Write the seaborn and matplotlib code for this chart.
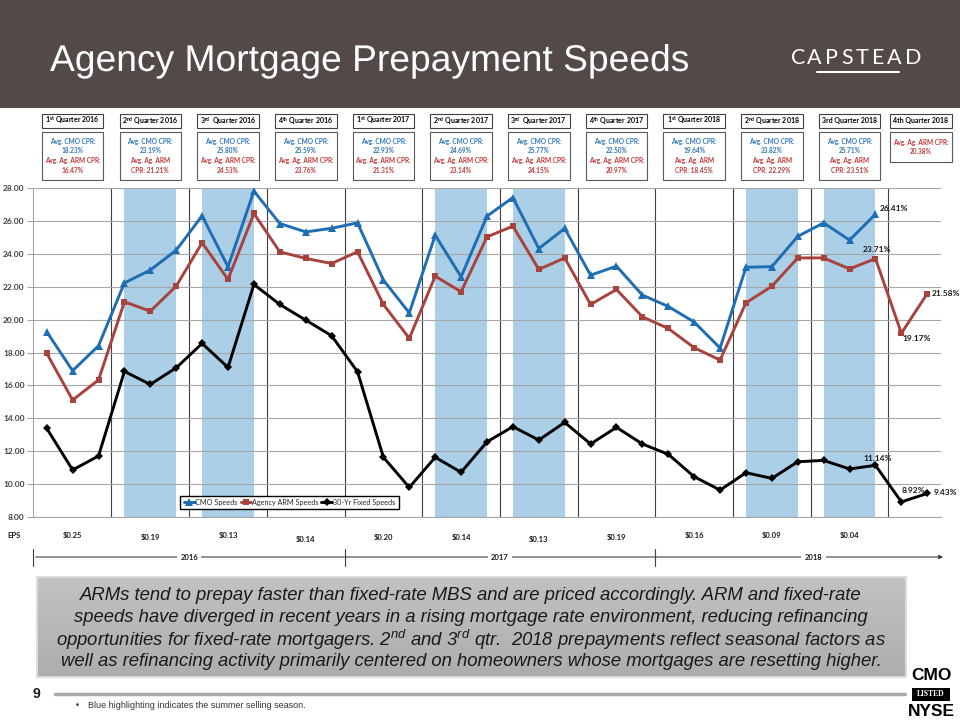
import numpy as np
import pandas as pd
import matplotlib
matplotlib.use("Agg")
import matplotlib.pyplot as plt
import seaborn as sns
from matplotlib import font_manager
from matplotlib.patches import Rectangle
from matplotlib.lines import Line2D
from matplotlib.transforms import blended_transform_factory
import matplotlib.patheffects as pe
from matplotlib.ticker import FormatStrFormatter, MultipleLocator

# ---------------- data ----------------
months = ["Jan", "Feb", "Mar", "Apr", "May", "Jun", "Jul", "Aug", "Sep", "Oct", "Nov", "Dec"]
periods = [f"{m}-{y}" for y in (2016, 2017, 2018) for m in months][:35]

cmo_speeds = [19.26, 16.89, 18.41, 22.23, 23.01, 24.22, 26.31, 23.21, 27.81, 25.84, 25.33, 25.55,
              25.88, 22.40, 20.41, 25.13, 22.60, 26.29, 27.42, 24.32, 25.54, 22.70, 23.25, 21.49,
              20.80, 19.85, 18.27, 23.18, 23.22, 25.06, 25.88, 24.83, 26.41]
arm_speeds = [17.95, 15.11, 16.33, 21.08, 20.51, 22.04, 24.67, 22.44, 26.45, 24.12, 23.72, 23.41,
              24.12, 20.92, 18.86, 22.64, 21.69, 25.03, 25.68, 23.05, 23.75, 20.92, 21.83, 20.17,
              19.46, 18.29, 17.54, 21.02, 22.03, 23.75, 23.75, 23.08, 23.71, 19.17, 21.58]
fixed_speeds = [13.39, 10.86, 11.71, 16.85, 16.06, 17.07, 18.55, 17.09, 22.14, 20.92, 19.97, 19.02,
                16.83, 11.63, 9.80, 11.63, 10.72, 12.57, 13.49, 12.68, 13.75, 12.44, 13.45, 12.44,
                11.81, 10.45, 9.64, 10.69, 10.35, 11.36, 11.44, 10.92, 11.14, 8.92, 9.43]

quarter_titles = ["1$^{\\mathbf{st}}$ Quarter 2016", "2$^{\\mathbf{nd}}$ Quarter 2016",
                  "3$^{\\mathbf{rd}}$  Quarter 2016", "4$^{\\mathbf{th}}$ Quarter 2016",
                  "1$^{\\mathbf{st}}$ Quarter 2017", "2$^{\\mathbf{nd}}$ Quarter 2017",
                  "3$^{\\mathbf{rd}}$  Quarter 2017", "4$^{\\mathbf{th}}$ Quarter 2017",
                  "1$^{\\mathbf{st}}$ Quarter 2018", "2$^{\\mathbf{nd}}$ Quarter 2018",
                  "3rd Quarter 2018", "4th Quarter 2018"]
cmo_avg = [18.23, 23.19, 25.80, 25.59, 22.93, 24.69, 25.77, 22.50, 19.64, 23.82, 25.71, None]
arm_avg = [16.47, 21.21, 24.53, 23.76, 21.31, 23.14, 24.15, 20.97, 18.45, 22.29, 23.51, 20.38]
arm_split = [False, True, False, False, False, False, False, False, True, True, True, False]

eps_values = ["\\$0.25", "\\$0.19", "\\$0.13", "\\$0.14", "\\$0.20", "\\$0.14",
              "\\$0.13", "\\$0.19", "\\$0.16", "\\$0.09", "\\$0.04"]
years = ["2016", "2017", "2018"]
summer_spans = [(3, 5), (6, 8), (15, 17), (18, 20), (27, 29), (30, 32)]

series = [("CMO Speeds", cmo_speeds), ("Agency ARM Speeds", arm_speeds),
          ("30-Yr Fixed Speeds", fixed_speeds)]
df = pd.concat([pd.DataFrame({"period": periods[:len(v)], "idx": np.arange(len(v)),
                              "value": v, "series": n}) for n, v in series], ignore_index=True)

# ---------------- style ----------------
sns.set_theme(style="white")
names = {f.name for f in font_manager.fontManager.ttflist}
NARROW = "Liberation Sans Narrow" if "Liberation Sans Narrow" in names else "Liberation Sans"
HAS_NARROW = NARROW == "Liberation Sans Narrow"
BODY = "Lato" if "Lato" in names else "DejaVu Sans"
plt.rcParams["font.family"] = [BODY, "DejaVu Sans"]
plt.rcParams["mathtext.fontset"] = "custom"
plt.rcParams["mathtext.bf"] = f"{BODY}:bold"
plt.rcParams["mathtext.rm"] = f"{BODY}"
plt.rcParams["mathtext.it"] = f"{NARROW}:italic"

W, H = 960, 720
def fx(x): return x / W
def fy(y): return 1 - y / H

fig = plt.figure(figsize=(9.6, 7.2), dpi=100)
fig.patch.set_facecolor("white")

# header banner
fig.add_artist(Rectangle((0, fy(108)), 1, 108 / H, transform=fig.transFigure,
                         facecolor="#534a47", edgecolor="none", zorder=0))
fig.text(fx(50), fy(71), "Agency Mortgage Prepayment Speeds", color="white", fontsize=26.8,
         family="Liberation Sans", va="baseline", ha="left",
         path_effects=[pe.SimplePatchShadow(offset=(1.5, -1.5), alpha=0.6), pe.Normal()])
for ch, cx in zip("CAPSTEAD", [798, 814.5, 831.5, 847, 861.5, 878, 894, 913]):
    fig.text(fx(cx), fy(58), ch, color="white", fontsize=15.5, family=BODY,
             fontweight="normal", ha="center", va="center")
fig.add_artist(Line2D([fx(817), fx(899)], [fy(72), fy(72)], transform=fig.transFigure,
                      color="white", lw=1.5))

# ---------------- chart ----------------
ax = fig.add_axes([fx(33), fy(517), 908 / W, 329 / H])
colors = {"CMO Speeds": "#1f6db3", "Agency ARM Speeds": "#a8423d", "30-Yr Fixed Speeds": "#000000"}
mk = {"CMO Speeds": ("^", 5.5), "Agency ARM Speeds": ("s", 4.0), "30-Yr Fixed Speeds": ("D", 4.2)}
for name, _ in series:
    sub = df[df.series == name]
    sns.lineplot(data=sub, x="idx", y="value", color=colors[name], marker=mk[name][0],
                 markersize=mk[name][1], markeredgewidth=0, lw=2.1, label=name, ax=ax,
                 zorder=3, sort=False)

for a, b in summer_spans:
    ax.axvspan(a, b, color="#abcfe7", lw=0, zorder=0.5)
for k in range(11):
    ax.axvline(2.5 + 3 * k, color="#3f3f3f", lw=0.8, zorder=1.5)

ax.set_xlim(-0.53, 34.53)
ax.set_ylim(8, 28)
ax.set_xticks([])
ax.set_xlabel("")
ax.set_ylabel("")
ax.yaxis.set_major_locator(MultipleLocator(2))
ax.yaxis.set_major_formatter(FormatStrFormatter("%.2f"))
ax.set_axisbelow(False)
ax.yaxis.grid(True, color="#a6a6a6", lw=0.8)
ax.xaxis.grid(False)
ax.tick_params(axis="y", left=True, length=4, width=0.8, color="#a6a6a6",
               labelsize=6, labelcolor="#404040", pad=2, direction="out")
for t in ax.get_yticklabels():
    t.set_fontweight("bold")
for s in ["top", "right"]:
    ax.spines[s].set_visible(False)
for s in ["left", "bottom"]:
    ax.spines[s].set_color("#a6a6a6")
    ax.spines[s].set_linewidth(0.8)

leg = ax.legend(ncol=3, loc="center", bbox_to_anchor=(0.2825, 0.044), fontsize=5.2,
                frameon=True, fancybox=False, edgecolor="black", framealpha=1,
                handlelength=1.5, handletextpad=0.1, columnspacing=0.4,
                borderpad=0.45, borderaxespad=0)
leg.get_frame().set_linewidth(1.0)
leg.set_zorder(5)

# data labels
def lab(i, v, dx, dy, ha):
    ax.annotate(f"{v:.2f}%", xy=(i, v), xytext=(dx, dy), textcoords="offset pixels",
                fontsize=6, fontweight="bold", ha=ha, va="center", annotation_clip=False,
                color="#1a1a1a", zorder=4)
lab(32, cmo_speeds[32], 4, 6, "left")
lab(32, arm_speeds[32], 1, 9, "center")
lab(33, arm_speeds[33], 1, -5, "left")
lab(34, arm_speeds[34], 4, 0, "left")
lab(32, fixed_speeds[32], 2, 7, "center")
lab(33, fixed_speeds[33], 0, 11, "left")
lab(34, fixed_speeds[34], 6, 1, "left")

# ---------------- quarter boxes ----------------
trans = blended_transform_factory(ax.transData, fig.transFigure)
blue_t, red_t = "#2e75b6", "#c0393b"
hw = 1.19
for q in range(12):
    cx = 3 * q + 1 if q < 11 else 33.75
    fig.add_artist(Rectangle((cx - hw, fy(128)), 2 * hw, 14 / H, transform=trans,
                             facecolor="white", edgecolor="#404040", lw=0.8))
    fig.text(cx, fy(121), quarter_titles[q], transform=trans, ha="center", va="center",
             fontsize=5, fontweight="bold", color="black")
    bottom = 180 if q < 11 else 162
    fig.add_artist(Rectangle((cx - hw, fy(bottom)), 2 * hw, (bottom - 132) / H,
                             transform=trans, facecolor="white", edgecolor="#595959", lw=0.8))
    if cmo_avg[q] is not None:
        fig.text(cx, fy(141.5), "Avg. CMO CPR:", transform=trans, ha="center", va="center",
                 fontsize=4.7, fontweight="bold", color=blue_t)
        fig.text(cx, fy(150.5), f"{cmo_avg[q]:.2f}%", transform=trans, ha="center",
                 va="center", fontsize=4.7, fontweight="bold", color=blue_t)
        y1, y2 = 160.5, 170.5
    else:
        y1, y2 = 143, 152
    if arm_split[q]:
        l1, l2 = "Avg. Ag. ARM", f"CPR: {arm_avg[q]:.2f}%"
    else:
        l1, l2 = "Avg. Ag. ARM CPR:", f"{arm_avg[q]:.2f}%"
    fig.text(cx, fy(y1), l1, transform=trans, ha="center", va="center", fontsize=4.7,
             fontweight="bold", color=red_t)
    fig.text(cx, fy(y2), l2, transform=trans, ha="center", va="center", fontsize=4.7,
             fontweight="bold", color=red_t)

# ---------------- EPS row and year timeline ----------------
eps_y = [536, 538, 536, 540, 537, 537, 539, 537, 536, 536, 535]
fig.text(fx(14), fy(536), "EPS", ha="center", va="center", fontsize=5.5, fontweight="bold",
         color="#1a1a1a")
for q, e in enumerate(eps_values):
    fig.text(3 * q + 1, fy(eps_y[q]), e, transform=trans, ha="center", va="center",
             fontsize=5.5, fontweight="bold", color="#1a1a1a")

fig.add_artist(matplotlib.patches.FancyArrowPatch((fx(33), fy(557)), (fx(946), fy(557)),
               transform=fig.transFigure, arrowstyle="-|>", mutation_scale=6,
               color="#404040", lw=0.8))
for bx in [-0.53, 11.5, 23.5]:
    fig.add_artist(Line2D([bx, bx], [fy(549), fy(566)], transform=trans, color="#404040",
                          lw=0.8))
for yr, cx in zip(years, [5.5, 17.5, 29.6]):
    fig.text(cx, fy(557), yr, transform=trans, ha="center", va="center", fontsize=5.5,
             fontweight="bold", color="#1a1a1a",
             bbox=dict(facecolor="white", edgecolor="none", pad=2.5))

# ---------------- commentary box ----------------
bax = fig.add_axes([fx(37), fy(677), (906 - 37) / W, 100 / H])
grad = np.linspace(0, 1, 100).reshape(-1, 1)
cmap = matplotlib.colors.LinearSegmentedColormap.from_list("g", ["#c2c2c2", "#adadad"])
bax.imshow(grad, cmap=cmap, aspect="auto", extent=[0, 1, 0, 1], origin="upper")
bax.set_xticks([]); bax.set_yticks([])
for s in bax.spines.values():
    s.set_color("#dcdcdc"); s.set_linewidth(1.5)

lines = ["ARMs tend to prepay faster than fixed-rate MBS and are priced accordingly. ARM and fixed-rate",
         "speeds have diverged in recent years in a rising mortgage rate environment, reducing refinancing",
         "opportunities for fixed-rate mortgagers. 2$^{nd}$ and 3$^{rd}$ qtr.  2018 prepayments reflect seasonal factors as",
         "well as refinancing activity primarily centered on homeowners whose mortgages are resetting higher."]
fsz = 14 if HAS_NARROW else 13.3
for ln, yy in zip(lines, [596, 618, 640, 662]):
    fig.text(fx(471), fy(yy), ln, ha="center", va="center", fontsize=fsz, family=NARROW,
             style="italic", color="#1a1a1a")

# ---------------- footer ----------------
fig.text(fx(36), fy(694), "9", fontsize=10, fontweight="bold", family="Liberation Sans",
         ha="center", va="center", color="#1a1a1a")
fig.add_artist(Line2D([fx(55), fx(905)], [fy(694), fy(694)], transform=fig.transFigure,
                      color="#a8a8a8", lw=2.5))
fig.text(fx(77), fy(706), "\u2022", fontsize=6, family="DejaVu Sans", ha="center",
         va="center", color="#333333")
fig.text(fx(88), fy(706), "Blue highlighting indicates the summer selling season.",
         fontsize=7.5 if HAS_NARROW else 6.5, family=NARROW,
         ha="left", va="center", color="#333333")

logo_fs = 15 if HAS_NARROW else 12.5
fig.text(fx(931), fy(676), "CMO", fontsize=logo_fs, fontweight="bold", family=NARROW,
         ha="center", va="center", color="black")
fig.add_artist(Rectangle((fx(912), fy(701)), 38 / W, 13 / H, transform=fig.transFigure,
                         facecolor="black", edgecolor="none"))
fig.text(fx(931), fy(694.5), "LISTED", fontsize=5.5, fontweight="bold",
         family="Liberation Serif", ha="center", va="center", color="white")
fig.text(fx(931), fy(712), "NYSE", fontsize=logo_fs, fontweight="bold", family=NARROW,
         ha="center", va="center", color="black")

fig.savefig("out.png", dpi=100)
